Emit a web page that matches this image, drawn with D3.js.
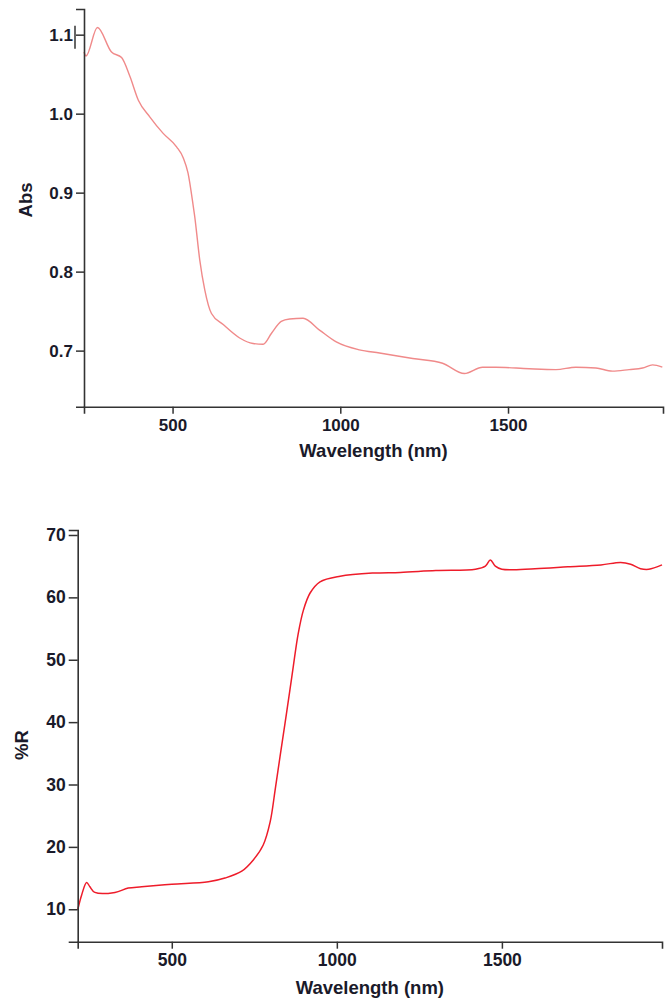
<!DOCTYPE html>
<html><head><meta charset="utf-8">
<script src="https://cdn.jsdelivr.net/npm/d3@7"></script>
<style>
body{margin:0;background:#fff;}
svg text{font-family:"Liberation Sans",Arial,sans-serif;font-weight:bold;fill:#1a1a2a;}
</style></head>
<body><svg id="c" width="670" height="1000"></svg>
<script>
// Top panel: absorbance
const absWavelength = [236,242,276,318,348,373,398,432,472,512,532,546,561,566,581,596,616,651,700,740,770,795,824,849,889,938,988,1057,1117,1216,1305,1370,1424,1464,1563,1643,1702,1762,1811,1861,1901,1931,1960];
const absValues     = [1.078,1.073,1.109,1.078,1.071,1.047,1.017,0.996,0.975,0.958,0.944,0.925,0.885,0.870,0.815,0.777,0.747,0.733,0.716,0.709,0.708,0.722,0.737,0.740,0.741,0.726,0.711,0.701,0.697,0.690,0.684,0.671,0.679,0.679,0.677,0.676,0.679,0.678,0.674,0.676,0.678,0.682,0.679];
const absTicksY = [0.7,0.8,0.9,1.0,1.1];
const absTicksX = [500,1000,1500];

// Bottom panel: reflectance
const rWavelength = [215,227,242,252,267,328,368,409,500,611,661,712,747,777,798,813,828,843,858,868,883,899,919,949,1010,1111,1192,1300,1420,1450,1465,1480,1500,1600,1700,1800,1860,1890,1920,1945,1985];
const rValues     = [9.9,12.3,14.3,13.6,12.7,12.7,13.4,13.6,14.0,14.4,15.0,16.1,17.9,20.3,24.0,29.1,34.5,39.8,45.2,48.9,54.2,58.0,60.7,62.5,63.4,63.9,64.0,64.3,64.5,65.0,66.0,65.0,64.5,64.6,64.9,65.2,65.6,65.3,64.6,64.5,65.2];
const rTicksY = [10,20,30,40,50,60,70];
const rTicksX = [500,1000,1500];

const svg = d3.select("#c");

function panel(o){
  const x = d3.scaleLinear().domain(o.xDomain).range([o.left, o.right]);
  const y = d3.scaleLinear().domain(o.yDomain).range([o.bottom, o.top]);
  const g = svg.append("g");
  const line = d3.line().x((d,i)=>x(o.xs[i])).y((d,i)=>y(o.ys[i])).curve(o.curve);
  g.append("path").datum(o.ys).attr("d", line).attr("fill","none")
    .attr("stroke", o.color).attr("stroke-width", o.lw);

  const ax = g.append("g").attr("transform",`translate(0,${o.bottom})`)
    .call(d3.axisBottom(x).tickValues(o.ticksX).tickSizeOuter(0).tickSize(7).tickPadding(5).tickFormat(d3.format("d")));
  const ay = g.append("g").attr("transform",`translate(${o.left},0)`)
    .call(d3.axisLeft(y).tickValues(o.ticksY).tickSizeOuter(0).tickSize(o.tickY).tickPadding(3).tickFormat(o.fmtY));
  [ax,ay].forEach(a=>{
    a.select(".domain").attr("stroke","#333").attr("stroke-width",1.6);
    a.selectAll(".tick line").attr("stroke","#333").attr("stroke-width",1.5);
    a.selectAll(".tick text").attr("font-size",o.fs).attr("fill","#1a1a2a");
  });
  g.append("text").attr("x", (o.left+o.right)/2).attr("y", o.xTitleY)
    .attr("text-anchor","middle").attr("font-size",18.5).text("Wavelength (nm)");
  g.append("text").attr("transform",`translate(${o.yTitleX},${o.yTitleY}) rotate(-90)`)
    .attr("text-anchor","middle").attr("font-size",18.5).text(o.yTitle);
  return {x,y,g};
}

const absPanel = panel({xDomain:[236,1962], yDomain:[0.629,1.1325], left:84, right:663, top:9, bottom:406.7,
  xs:absWavelength, ys:absValues, color:"#f08a8a", lw:1.4, ticksX:absTicksX, ticksY:absTicksY,
  fmtY:d3.format(".1f"), fs:17, tickY:8, xTitleY:457, yTitleX:32, yTitleY:200, yTitle:"Abs",
  curve:d3.curveMonotoneX});
// bracket mark at the 1.1 tick as in the original
absPanel.g.append("line").attr("x1",75).attr("x2",75).attr("y1",absPanel.y(1.1)-9).attr("y2",absPanel.y(1.1)+14)
  .attr("stroke","#333").attr("stroke-width",1.5);

panel({xDomain:[215,1985], yDomain:[4.8,70.8], left:77.7, right:662, top:530, bottom:941.7,
  xs:rWavelength, ys:rValues, color:"#ee1c2a", lw:1.5, ticksX:rTicksX, ticksY:rTicksY,
  fmtY:d3.format("d"), fs:17.5, tickY:9, xTitleY:994, yTitleX:28, yTitleY:745, yTitle:"%R",
  curve:d3.curveCatmullRom.alpha(0.5)});
</script></body></html>
